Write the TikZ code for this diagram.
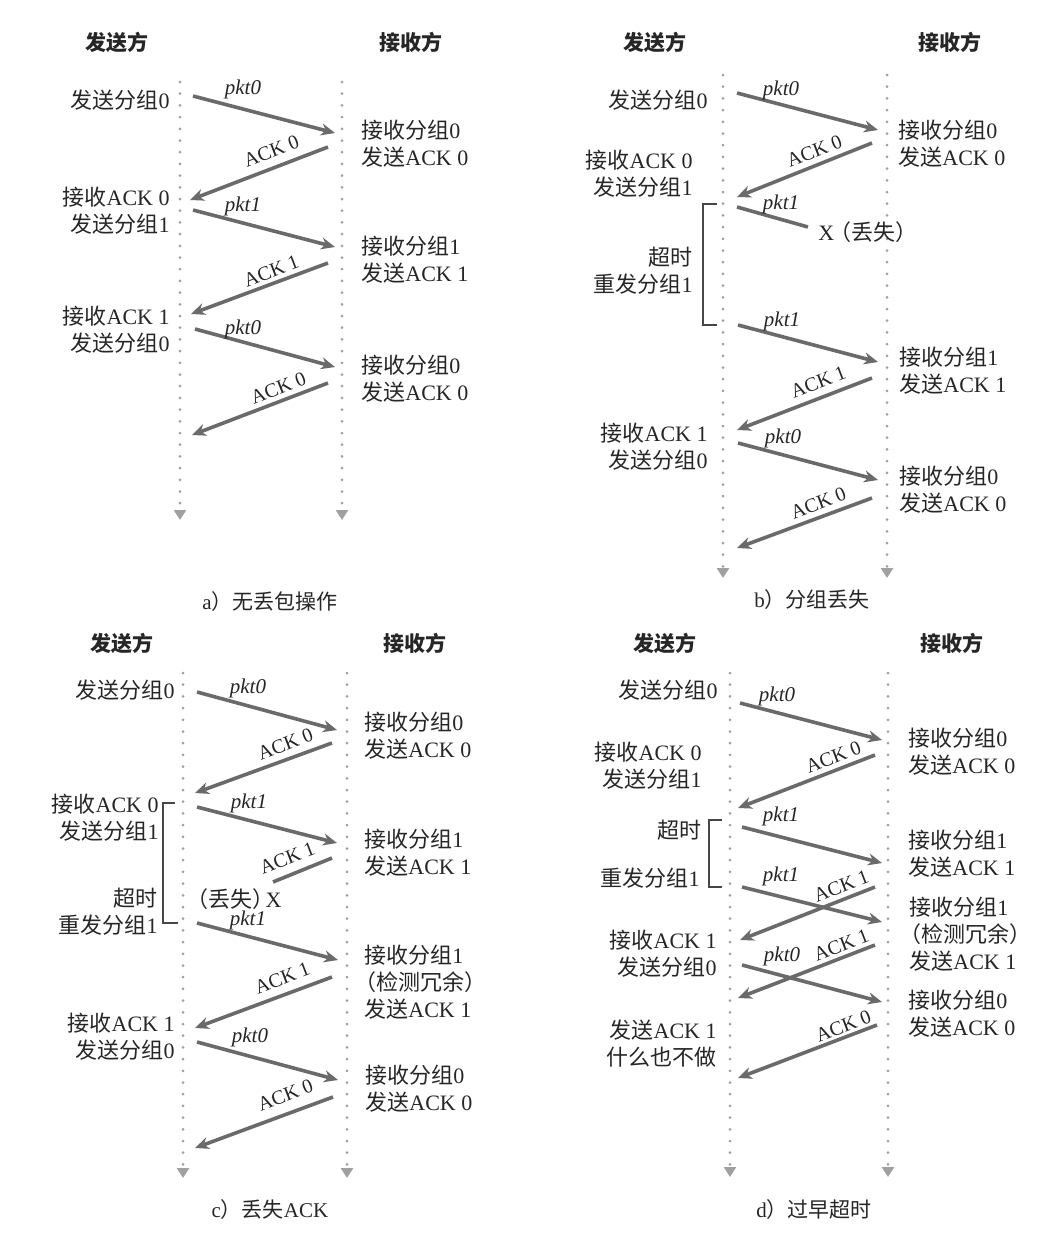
\documentclass[tikz,border=0pt]{standalone}
\usepackage{fontspec}
\setmainfont{Liberation Serif}
\newfontfamily\cjk{Noto Sans CJK SC}
\usetikzlibrary{arrows.meta}
\newcommand\zh[1]{{\cjk #1}}
\newcommand\lpar{\hspace*{-0.45em}}
\definecolor{txt}{HTML}{262626}
\definecolor{arr}{HTML}{6A6A6A}
\definecolor{life}{HTML}{A0A0A0}
\begin{document}
\begin{tikzpicture}[x=0.5pt,y=-0.5pt,
  every node/.style={inner sep=0pt, text=txt},
  snd/.style={anchor=east, align=right, font=\fontsize{11}{13.5}\selectfont},
  rcv/.style={anchor=west, align=left, font=\fontsize{11}{13.5}\selectfont},
  hdr/.style={font=\fontsize{10.5}{12}\selectfont\bfseries},
  capt/.style={font=\fontsize{10.5}{12}\selectfont},
  pl/.style={font=\fontsize{10.5}{12}\selectfont\itshape},
  al/.style={font=\fontsize{10}{12}\selectfont, rotate=21, yshift=1pt},
  msg/.style={draw=arr, line width=1.8pt, -{Stealth[length=7pt,width=6pt]}},
  lost/.style={draw=arr, line width=1.8pt},
  lifeline/.style={draw=life, line width=1.5pt, line cap=round, dash pattern=on 0pt off 5.85pt, -{Triangle[length=5pt,width=6pt]}},
  brk/.style={draw=txt!85, line width=0.6pt}
]
\fill[white] (0,0) rectangle (1039,1233);
\useasboundingbox (0,0) rectangle (1039,1233);

% ================= panel a =================
\node[hdr] (aS) at (117,42) {\zh{发送方}};
\node[hdr] (aR) at (411,42) {\zh{接收方}};
\coordinate (aSt) at (180,82); \coordinate (aSb) at (180,520);
\coordinate (aRt) at (342,82); \coordinate (aRb) at (342,520);
\draw[lifeline] (aSt) -- (aSb);
\draw[lifeline] (aRt) -- (aRb);
\node[snd] (a1) at (170,100) {\zh{发送分组}0};
\node[snd] (a2) at (170,211) {\zh{接收}ACK 0\\\zh{发送分组}1};
\node[snd] (a3) at (170,330) {\zh{接收}ACK 1\\\zh{发送分组}0};
\node[rcv] (a4) at (361,143.5) {\zh{接收分组}0\\\zh{发送}ACK 0};
\node[rcv] (a5) at (361,260) {\zh{接收分组}1\\\zh{发送}ACK 1};
\node[rcv] (a6) at (361,378.5) {\zh{接收分组}0\\\zh{发送}ACK 0};
\coordinate (a1s) at (193,96);  \coordinate (a1e) at (335,133);
\coordinate (a2s) at (328,147); \coordinate (a2e) at (190,200);
\coordinate (a3s) at (193,210); \coordinate (a3e) at (335,247);
\coordinate (a4s) at (328,263); \coordinate (a4e) at (191,314);
\coordinate (a5s) at (195,329); \coordinate (a5e) at (335,367);
\coordinate (a6s) at (328,383); \coordinate (a6e) at (192,435);
\draw[msg] (a1s) -- (a1e);
\draw[msg] (a2s) -- (a2e);
\draw[msg] (a3s) -- (a3e);
\draw[msg] (a4s) -- (a4e);
\draw[msg] (a5s) -- (a5e);
\draw[msg] (a6s) -- (a6e);
\node[pl] (a1l) at (243,89) {pkt0};
\node[al] (a2l) at (272,153) {ACK 0};
\node[pl] (a3l) at (243,206) {pkt1};
\node[al] (a4l) at (272,273) {ACK 1};
\node[pl] (a5l) at (243,329) {pkt0};
\node[al] (a6l) at (279,390) {ACK 0};
\node[capt] (acap) at (270,602) {a\zh{）无丢包操作}};

% ================= panel b =================
\node[hdr] (bS) at (655,42) {\zh{发送方}};
\node[hdr] (bR) at (950,42) {\zh{接收方}};
\coordinate (bSt) at (723,75); \coordinate (bSb) at (723,578);
\coordinate (bRt) at (887,75); \coordinate (bRb) at (887,578);
\draw[lifeline] (bSt) -- (bSb);
\draw[lifeline] (bRt) -- (bRb);
\node[snd] (b1) at (708,100) {\zh{发送分组}0};
\node[snd] (b2) at (693,173.5) {\zh{接收}ACK 0\\\zh{发送分组}1};
\node[snd] (b3) at (693,271) {\zh{超时}\\\zh{重发分组}1};
\node[snd] (b4) at (708,446.5) {\zh{接收}ACK 1\\\zh{发送分组}0};
\node[rcv] (b5) at (898,143.5) {\zh{接收分组}0\\\zh{发送}ACK 0};
\node[rcv] (b6) at (899,370.5) {\zh{接收分组}1\\\zh{发送}ACK 1};
\node[rcv] (b7) at (899,489.5) {\zh{接收分组}0\\\zh{发送}ACK 0};
\coordinate (bk1) at (717,204); \coordinate (bk2) at (703,204);
\coordinate (bk3) at (703,325); \coordinate (bk4) at (717,325);
\draw[brk] (bk1) -- (bk2) -- (bk3) -- (bk4);
\coordinate (b1s) at (737,93);  \coordinate (b1e) at (878,130);
\coordinate (b2s) at (872,143); \coordinate (b2e) at (737,197);
\coordinate (b3s) at (737,207); \coordinate (b3e) at (808,227);
\coordinate (b4s) at (738,325); \coordinate (b4e) at (878,362);
\coordinate (b5s) at (872,378); \coordinate (b5e) at (737,430);
\coordinate (b6s) at (738,443); \coordinate (b6e) at (878,480);
\coordinate (b7s) at (872,498); \coordinate (b7e) at (737,548);
\draw[msg] (b1s) -- (b1e);
\draw[msg] (b2s) -- (b2e);
\draw[lost] (b3s) -- (b3e);
\draw[msg] (b4s) -- (b4e);
\draw[msg] (b5s) -- (b5e);
\draw[msg] (b6s) -- (b6e);
\draw[msg] (b7s) -- (b7e);
\node[pl] (b1l) at (781,90) {pkt0};
\node[al] (b2l) at (815,153) {ACK 0};
\node[pl] (b3l) at (781,204) {pkt1};
\node[rcv] (bx) at (818,232) {X\hspace{-0.2em}\zh{（丢失）}};
\node[pl] (b4l) at (782,321) {pkt1};
\node[al] (b5l) at (819,384) {ACK 1};
\node[pl] (b6l) at (783,438) {pkt0};
\node[al] (b7l) at (819,505) {ACK 0};
\node[capt] (bcap) at (812,600) {b\zh{）分组丢失}};

% ================= panel c =================
\node[hdr] (cS) at (122,643) {\zh{发送方}};
\node[hdr] (cR) at (415,643) {\zh{接收方}};
\coordinate (cSt) at (183,673); \coordinate (cSb) at (183,1178);
\coordinate (cRt) at (347,673); \coordinate (cRb) at (347,1178);
\draw[lifeline] (cSt) -- (cSb);
\draw[lifeline] (cRt) -- (cRb);
\node[snd] (c1) at (175,690) {\zh{发送分组}0};
\node[snd] (c2) at (159,817.5) {\zh{接收}ACK 0\\\zh{发送分组}1};
\node[snd] (c3) at (158,911.5) {\zh{超时}\\\zh{重发分组}1};
\node[snd] (c4) at (175,1036.5) {\zh{接收}ACK 1\\\zh{发送分组}0};
\node[rcv] (c5) at (364,735.5) {\zh{接收分组}0\\\zh{发送}ACK 0};
\node[rcv] (c6) at (364,852.5) {\zh{接收分组}1\\\zh{发送}ACK 1};
\node[rcv] (c7) at (364,982.5) {\zh{接收分组}1\\\lpar\zh{（检测冗余）}\\\zh{发送}ACK 1};
\node[rcv] (c8) at (365,1088.5) {\zh{接收分组}0\\\zh{发送}ACK 0};
\coordinate (ck1) at (175,803); \coordinate (ck2) at (163,803);
\coordinate (ck3) at (163,923); \coordinate (ck4) at (178,923);
\draw[brk] (ck1) -- (ck2) -- (ck3) -- (ck4);
\coordinate (c1s) at (197,692);  \coordinate (c1e) at (337,730);
\coordinate (c2s) at (332,743);  \coordinate (c2e) at (195,793);
\coordinate (c3s) at (197,807);  \coordinate (c3e) at (337,843);
\coordinate (c4s) at (332,858);  \coordinate (c4e) at (273,882);
\coordinate (c5s) at (197,923);  \coordinate (c5e) at (338,960);
\coordinate (c6s) at (332,977);  \coordinate (c6e) at (195,1028);
\coordinate (c7s) at (197,1042); \coordinate (c7e) at (338,1080);
\coordinate (c8s) at (333,1097); \coordinate (c8e) at (195,1148);
\draw[msg] (c1s) -- (c1e);
\draw[msg] (c2s) -- (c2e);
\draw[msg] (c3s) -- (c3e);
\draw[lost] (c4s) -- (c4e);
\draw[msg] (c5s) -- (c5e);
\draw[msg] (c6s) -- (c6e);
\draw[msg] (c7s) -- (c7e);
\draw[msg] (c8s) -- (c8e);
\node[pl] (c1l) at (248,688) {pkt0};
\node[al] (c2l) at (286,746) {ACK 0};
\node[pl] (c3l) at (249,803) {pkt1};
\node[al] (c4l) at (288,860) {ACK 1};
\node[snd] (cx) at (282,899) {\zh{（丢失）}\hspace{-0.4em}X};
\node[pl] (c5l) at (248,920) {pkt1};
\node[al] (c6l) at (283,980) {ACK 1};
\node[pl] (c7l) at (250,1037) {pkt0};
\node[al] (c8l) at (286,1097) {ACK 0};
\node[capt] (ccap) at (270,1210) {c\zh{）丢失}ACK};

% ================= panel d =================
\node[hdr] (dS) at (665,643) {\zh{发送方}};
\node[hdr] (dR) at (952,643) {\zh{接收方}};
\coordinate (dSt) at (730,673); \coordinate (dSb) at (730,1177);
\coordinate (dRt) at (888,673); \coordinate (dRb) at (888,1177);
\draw[lifeline] (dSt) -- (dSb);
\draw[lifeline] (dRt) -- (dRb);
\node[snd] (d1) at (718,690) {\zh{发送分组}0};
\node[snd] (d2) at (702,766) {\zh{接收}ACK 0\\\zh{发送分组}1};
\node[snd] (d3) at (702,830) {\zh{超时}};
\node[snd] (d4) at (700,878) {\zh{重发分组}1};
\node[snd] (d5) at (717,953.5) {\zh{接收}ACK 1\\\zh{发送分组}0};
\node[snd] (d6) at (717,1043.5) {\zh{发送}ACK 1\\\zh{什么也不做}};
\node[rcv] (d7) at (908,751.5) {\zh{接收分组}0\\\zh{发送}ACK 0};
\node[rcv] (d8) at (908,854) {\zh{接收分组}1\\\zh{发送}ACK 1};
\node[rcv] (d9) at (909,934.5) {\zh{接收分组}1\\\lpar\zh{（检测冗余）}\\\zh{发送}ACK 1};
\node[rcv] (d10) at (908,1014) {\zh{接收分组}0\\\zh{发送}ACK 0};
\coordinate (dk1) at (722,820); \coordinate (dk2) at (709,820);
\coordinate (dk3) at (709,887); \coordinate (dk4) at (722,887);
\draw[brk] (dk1) -- (dk2) -- (dk3) -- (dk4);
\coordinate (d1s) at (740,703);  \coordinate (d1e) at (882,740);
\coordinate (d2s) at (875,755);  \coordinate (d2e) at (738,808);
\coordinate (d3s) at (742,827);  \coordinate (d3e) at (882,863);
\coordinate (d4s) at (742,887);  \coordinate (d4e) at (882,922);
\coordinate (d5s) at (875,887);  \coordinate (d5e) at (740,940);
\coordinate (d6s) at (742,965);  \coordinate (d6e) at (882,1002);
\coordinate (d7s) at (875,945);  \coordinate (d7e) at (738,998);
\coordinate (d8s) at (877,1025); \coordinate (d8e) at (738,1078);
\draw[msg] (d1s) -- (d1e);
\draw[msg] (d2s) -- (d2e);
\draw[msg] (d3s) -- (d3e);
\draw[msg] (d4s) -- (d4e);
\draw[msg] (d5s) -- (d5e);
\draw[msg] (d6s) -- (d6e);
\draw[msg] (d7s) -- (d7e);
\draw[msg] (d8s) -- (d8e);
\node[pl] (d1l) at (777,696) {pkt0};
\node[al] (d2l) at (834,759) {ACK 0};
\node[pl] (d3l) at (781,816) {pkt1};
\node[pl] (d4l) at (781,876) {pkt1};
\node[al] (d5l) at (842,888) {ACK 1};
\node[pl] (d6l) at (782,956) {pkt0};
\node[al] (d7l) at (842,947) {ACK 1};
\node[al] (d8l) at (844,1028) {ACK 0};
\node[capt] (dcap) at (814,1210) {d\zh{）过早超时}};
\end{tikzpicture}
\end{document}
